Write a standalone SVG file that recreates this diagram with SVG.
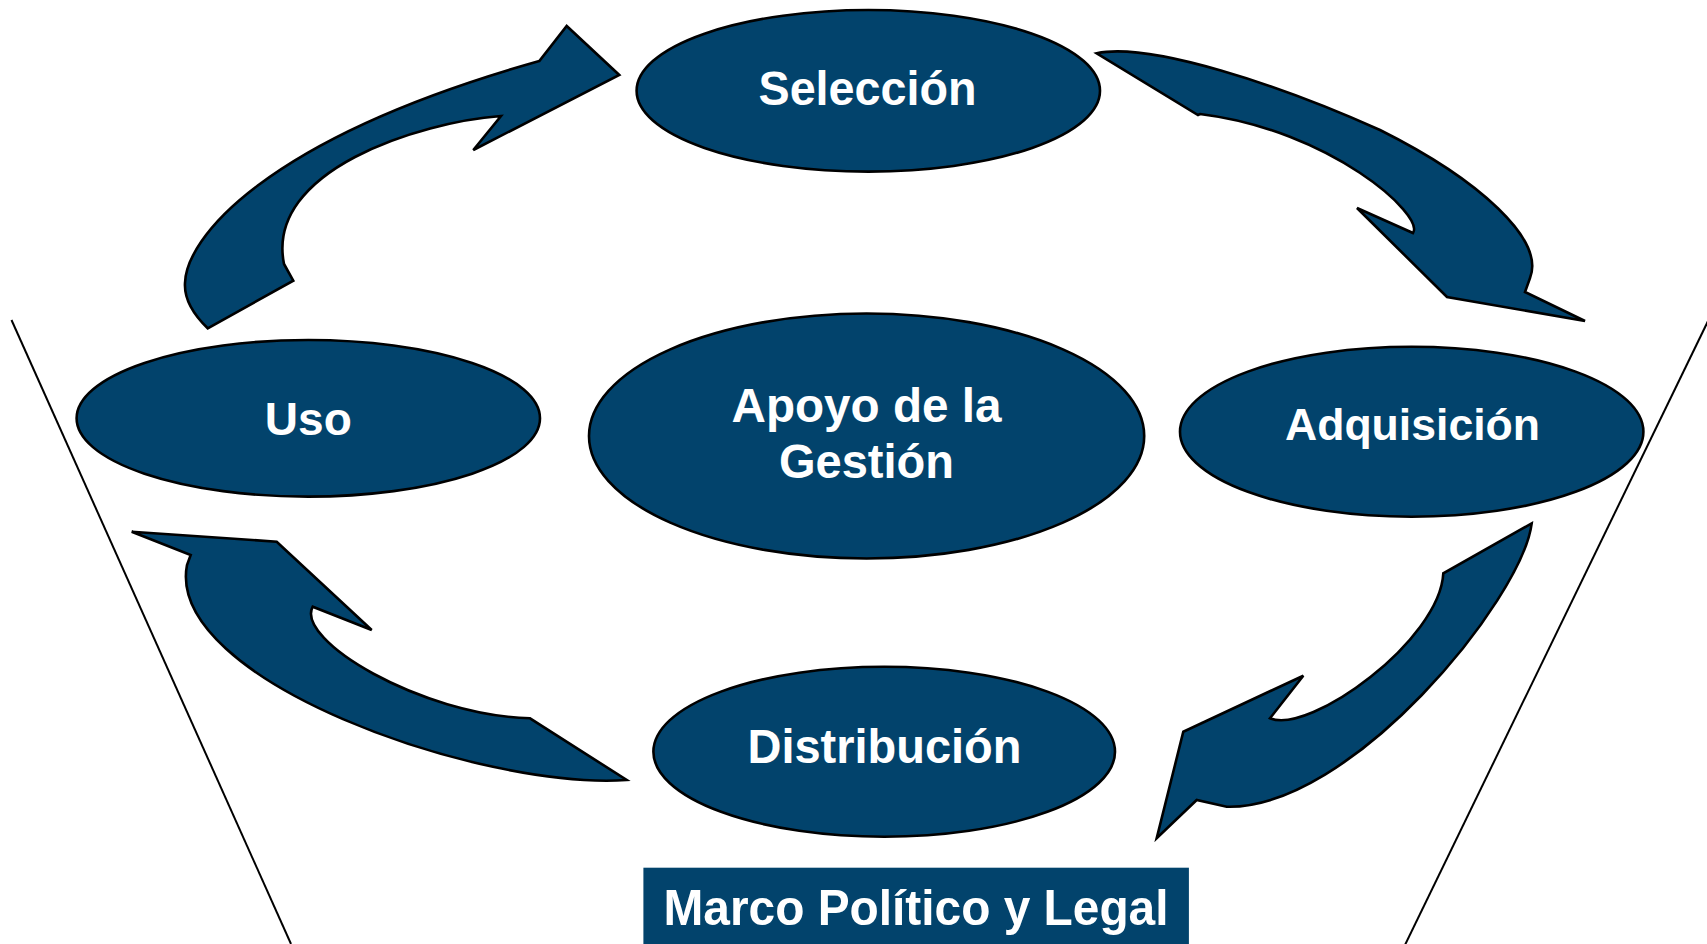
<svg xmlns="http://www.w3.org/2000/svg" width="1707" height="944" viewBox="0 0 1707 944">
<style>
.shape{fill:#02436C;stroke:#000;stroke-width:2.6;stroke-linejoin:miter}
.lbl{fill:#fff;font-family:"Liberation Sans",Arial,sans-serif;font-weight:bold;text-anchor:middle}
.frame{stroke:#000;stroke-width:2;fill:none}
</style>
<rect width="1707" height="944" fill="#fff"/>
<g id="frame-lines">
<line class="frame" x1="11.5" y1="320" x2="291" y2="944"/>
<line class="frame" x1="1709" y1="319" x2="1404" y2="947"/>
</g>
<g id="connectors">
<path class="shape" d="M207.7,328.3 C195,316 184,300 185,283 C186,240 260,140 539.3,61 L566.7,26 L619.3,75 L473.3,150 L501,116 C420,122 265,170 284,264 L293.3,280.7 Z"/>
<path class="shape" d="M1096.7,53.3 C1150,42 1280,85 1380,130 C1480,180 1545,240 1530,278 L1525,292 L1585,321 L1447,297 L1357,208 L1413,233 C1425,215 1330,130 1200,114 L1198,115 Z"/>
<path class="shape" d="M1531.7,523.3 C1522,600 1350,810 1226.7,806.7 L1196.7,800 L1156.7,838.3 L1183.3,731.7 L1303.3,675.7 L1270,718.3 C1310,735 1440,640 1443.3,573.3 Z"/>
<path class="shape" d="M626.7,780 C480,790 165,680 187,565 L190.7,555 L131.7,531.7 L276.7,541.7 L371.7,630 L312.7,606.7 C295,640 420,715 530,718.3 Z"/>
</g>
<g id="seleccion">
<ellipse class="shape" cx="868.3" cy="90.8" rx="231.7" ry="80.8"/>
<text class="lbl" x="867.5" y="105" font-size="48" textLength="218" lengthAdjust="spacingAndGlyphs">Selección</text>
</g>
<g id="uso">
<ellipse class="shape" cx="308.3" cy="418.3" rx="231.7" ry="78.3"/>
<text class="lbl" x="308.3" y="435" font-size="46" textLength="87" lengthAdjust="spacingAndGlyphs">Uso</text>
</g>
<g id="apoyo">
<ellipse class="shape" cx="866.6" cy="436" rx="277.6" ry="122.5"/>
<text class="lbl" x="866.5" y="422" font-size="48" textLength="270" lengthAdjust="spacingAndGlyphs">Apoyo de la</text>
<text class="lbl" x="866.5" y="478" font-size="48" textLength="175" lengthAdjust="spacingAndGlyphs">Gestión</text>
</g>
<g id="adquisicion">
<ellipse class="shape" cx="1411.7" cy="431.7" rx="231.7" ry="85"/>
<text class="lbl" x="1412.5" y="440" font-size="45" textLength="255" lengthAdjust="spacingAndGlyphs">Adquisición</text>
</g>
<g id="distribucion">
<ellipse class="shape" cx="884.2" cy="751.7" rx="230.8" ry="85"/>
<text class="lbl" x="884.5" y="763" font-size="48" textLength="274" lengthAdjust="spacingAndGlyphs">Distribución</text>
</g>
<g id="marco">
<rect x="643.4" y="867.7" width="545.5" height="80" fill="#02436C"/>
<text class="lbl" x="916" y="925" font-size="50" textLength="505" lengthAdjust="spacingAndGlyphs">Marco Político y Legal</text>
</g>
</svg>
